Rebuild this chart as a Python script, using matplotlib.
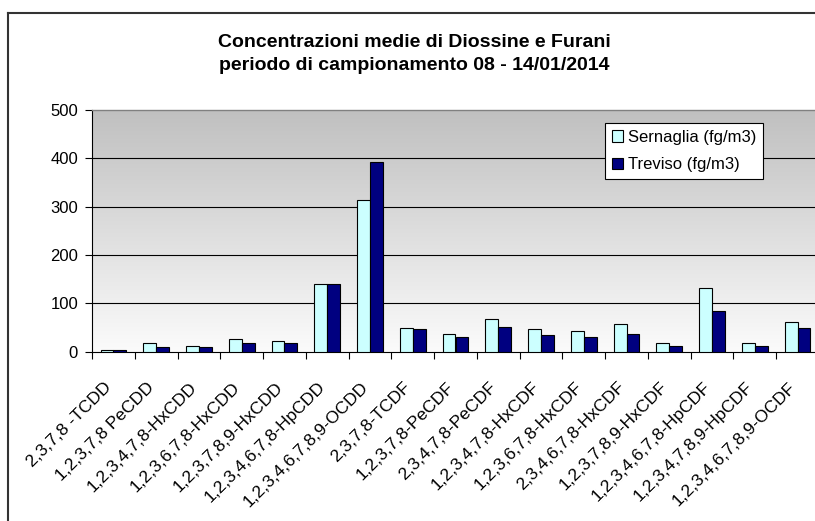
import numpy as np
import matplotlib
matplotlib.use("Agg")
import matplotlib.pyplot as plt
from matplotlib.patches import Patch
from matplotlib.lines import Line2D
from matplotlib.colors import LinearSegmentedColormap

plt.rcParams['font.family'] = ['Liberation Sans', 'DejaVu Sans']

categories = [
    "2,3,7,8 -TCDD", "1,2,3,7,8 PeCDD", "1,2,3,4,7,8-HxCDD", "1,2,3,6,7,8-HxCDD",
    "1,2,3,7,8,9-HxCDD", "1,2,3,4,6,7,8-HpCDD", "1,2,3,4,6,7,8,9-OCDD",
    "2,3,7,8-TCDF", "1,2,3,7,8-PeCDF", "2,3,4,7,8-PeCDF", "1,2,3,4,7,8-HxCDF",
    "1,2,3,6,7,8-HxCDF", "2,3,4,6,7,8-HxCDF", "1,2,3,7,8,9-HxCDF",
    "1,2,3,4,6,7,8-HpCDF", "1,2,3,4,7,8,9-HpCDF", "1,2,3,4,6,7,8,9-OCDF",
]
sernaglia = [3, 17, 12, 26, 23, 141, 313, 48, 37, 68, 46, 43, 57, 17, 132, 17, 62]
treviso = [3, 9, 9, 17, 17, 141, 392, 46, 31, 51, 34, 31, 37, 12, 85, 12, 48]
series_names = ["Sernaglia (fg/m3)", "Treviso (fg/m3)"]
yticks = [0, 100, 200, 300, 400, 500]
title = "Concentrazioni medie di Diossine e Furani\nperiodo di campionamento 08 - 14/01/2014"

W, H = 815, 521
fig = plt.figure(figsize=(W / 100, H / 100), dpi=100)
fig.patch.set_facecolor("white")

# outer chart border (left and top edges; right/bottom lie outside the image)
fig.add_artist(Line2D([8 / W, 8 / W], [-0.05, 1 - 13 / H], transform=fig.transFigure,
                      color="#333333", linewidth=1.5, solid_capstyle="projecting"))
fig.add_artist(Line2D([8 / W, 1.05], [1 - 13 / H, 1 - 13 / H], transform=fig.transFigure,
                      color="#333333", linewidth=1.5, solid_capstyle="projecting"))

ax_left, ax_right = 92, 819
ax_top, ax_bot = 110, 351.7
ax = fig.add_axes([ax_left / W, 1 - ax_bot / H, (ax_right - ax_left) / W, (ax_bot - ax_top) / H])

n = len(categories)
x = np.arange(n)
ax.set_xlim(-0.5, n - 0.5)
ax.set_ylim(0, 500)

# gradient background
grad = np.linspace(0, 1, 256).reshape(-1, 1)
cmap = LinearSegmentedColormap.from_list("g", ["#fbfbfb", "#c0c0c0"])
ax.imshow(grad, extent=(-0.5, n - 0.5, 0, 500), origin="lower", aspect="auto", cmap=cmap, zorder=0)

for yv in yticks[1:-1]:
    ax.axhline(yv, color="black", linewidth=0.8, zorder=1)

bw = 0.3
ax.bar(x - bw / 2, sernaglia, width=bw, color="#CCFFFF", edgecolor="black", linewidth=0.8, zorder=3)
ax.bar(x + bw / 2, treviso, width=bw, color="#000080", edgecolor="black", linewidth=0.8, zorder=3)

ax.spines["right"].set_visible(False)
ax.spines["top"].set_color("#808080")
ax.spines["top"].set_linewidth(1.0)
ax.spines["left"].set_linewidth(0.8)
ax.spines["bottom"].set_linewidth(0.8)

ax.set_yticks(yticks)
ax.set_yticklabels([str(v) for v in yticks], fontsize=12)
ax.tick_params(axis="y", direction="out", length=5, width=0.8, pad=5)

# category boundary ticks
ax.set_xticks(np.arange(-0.5, n, 1.0))
ax.set_xticklabels([])
ax.tick_params(axis="x", direction="out", length=5, width=0.8)

# rotated category labels
for xi, cat in zip(x, categories):
    ax.annotate(cat, xy=(xi, 0), xycoords=("data", "axes fraction"),
                xytext=(-4, -33), textcoords="offset pixels",
                rotation=45, ha="right", va="center", rotation_mode="anchor",
                fontsize=12.6, annotation_clip=False)

handles = [Patch(facecolor="#CCFFFF", edgecolor="black", linewidth=0.8),
           Patch(facecolor="#000080", edgecolor="black", linewidth=0.8)]
leg = fig.legend(handles, series_names, loc="upper left",
                 bbox_to_anchor=(605 / W, 1 - 123 / H), bbox_transform=fig.transFigure,
                 fontsize=12, frameon=True, fancybox=False, framealpha=1, edgecolor="black",
                 handlelength=0.7, handleheight=0.7, handletextpad=0.3, borderpad=0.4,
                 labelspacing=0.75, borderaxespad=0)
leg.get_frame().set_linewidth(0.8)

fig.text(414 / W, 1 - 54 / H, title, ha="center", va="center", fontsize=14,
         fontweight="bold", linespacing=1.45)

fig.savefig("out.png", dpi=100)
